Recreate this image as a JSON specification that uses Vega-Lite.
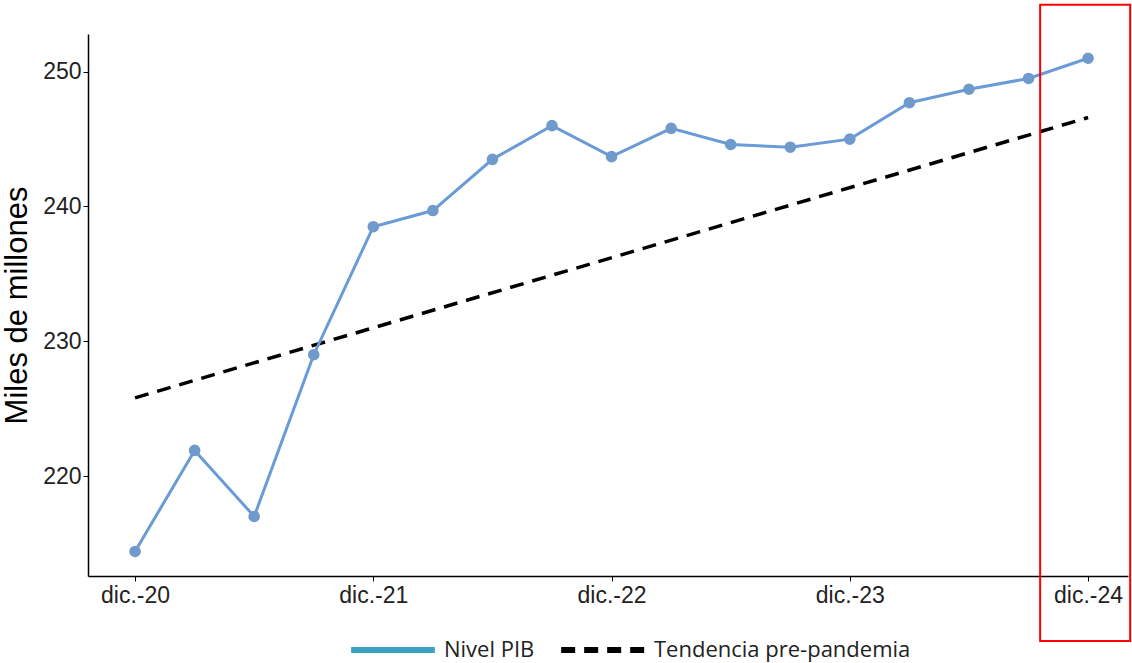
{
  "$schema": "https://vega.github.io/schema/vega-lite/v6.json",
  "autosize": {"type": "none"},
  "width": 1040,
  "height": 542,
  "padding": {"left": 88, "top": 34, "right": 4, "bottom": 87},
  "background": "white",
  "config": {
    "view": {"stroke": null},
    "font": "Liberation Sans",
    "axis": {
      "grid": false,
      "domainColor": "black",
      "domainWidth": 1.5,
      "tickColor": "black",
      "tickSize": 5,
      "labelColor": "#222222",
      "labelFont": "Liberation Sans",
      "labelFontSize": 23,
      "titleFont": "Liberation Sans",
      "titleFontWeight": "normal",
      "titleColor": "black"
    },
    "legend": {
      "labelFont": "Open Sans",
      "labelFontSize": 22,
      "labelColor": "#222222",
      "labelLimit": 500
    }
  },
  "datasets": {
    "pib": [
      {"i": 0, "periodo": "dic.-20", "valor": 214.4, "serie": "Nivel PIB"},
      {"i": 1, "periodo": "mar.-21", "valor": 221.9, "serie": "Nivel PIB"},
      {"i": 2, "periodo": "jun.-21", "valor": 217.0, "serie": "Nivel PIB"},
      {"i": 3, "periodo": "sep.-21", "valor": 229.0, "serie": "Nivel PIB"},
      {"i": 4, "periodo": "dic.-21", "valor": 238.5, "serie": "Nivel PIB"},
      {"i": 5, "periodo": "mar.-22", "valor": 239.7, "serie": "Nivel PIB"},
      {"i": 6, "periodo": "jun.-22", "valor": 243.5, "serie": "Nivel PIB"},
      {"i": 7, "periodo": "sep.-22", "valor": 246.0, "serie": "Nivel PIB"},
      {"i": 8, "periodo": "dic.-22", "valor": 243.7, "serie": "Nivel PIB"},
      {"i": 9, "periodo": "mar.-23", "valor": 245.8, "serie": "Nivel PIB"},
      {"i": 10, "periodo": "jun.-23", "valor": 244.6, "serie": "Nivel PIB"},
      {"i": 11, "periodo": "sep.-23", "valor": 244.4, "serie": "Nivel PIB"},
      {"i": 12, "periodo": "dic.-23", "valor": 245.0, "serie": "Nivel PIB"},
      {"i": 13, "periodo": "mar.-24", "valor": 247.7, "serie": "Nivel PIB"},
      {"i": 14, "periodo": "jun.-24", "valor": 248.7, "serie": "Nivel PIB"},
      {"i": 15, "periodo": "sep.-24", "valor": 249.5, "serie": "Nivel PIB"},
      {"i": 16, "periodo": "dic.-24", "valor": 251.0, "serie": "Nivel PIB"}
    ],
    "tendencia": [
      {"i": 0, "periodo": "dic.-20", "valor": 225.8, "serie": "Tendencia pre-pandemia"},
      {"i": 16, "periodo": "dic.-24", "valor": 246.6, "serie": "Tendencia pre-pandemia"}
    ],
    "recuadro": [
      {"x1": 15.195, "x2": 16.706, "y1": 207.76, "y2": 254.97}
    ]
  },
  "layer": [
    {
      "data": {"name": "tendencia"},
      "mark": {"type": "line", "strokeWidth": 3.5},
      "encoding": {
        "x": {
          "field": "i",
          "type": "quantitative",
          "scale": {"domain": [-0.79, 16.67], "nice": false, "zero": false},
          "axis": {
            "title": null,
            "values": [0, 4, 8, 12, 16],
            "labelExpr": "{'0':'dic.-20','4':'dic.-21','8':'dic.-22','12':'dic.-23','16':'dic.-24'}[datum.value]",
            "labelPadding": 3
          }
        },
        "y": {
          "field": "valor",
          "type": "quantitative",
          "scale": {"domain": [212.58, 252.8], "nice": false, "zero": false},
          "axis": {
            "title": "Miles de millones",
            "titleFontSize": 31,
            "titlePadding": 9,
            "values": [220, 230, 240, 250]
          }
        },
        "color": {
          "field": "serie",
          "type": "nominal",
          "scale": {"domain": ["Nivel PIB", "Tendencia pre-pandemia"], "range": ["#37A2C2", "black"]},
          "legend": {
            "title": null,
            "orient": "none",
            "legendX": 260,
            "legendY": 571,
            "direction": "horizontal",
            "symbolType": "stroke",
            "symbolSize": 7000,
            "symbolStrokeWidth": 6,
            "columnPadding": 14,
            "labelOffset": 6
          }
        },
        "strokeDash": {
          "field": "serie",
          "type": "nominal",
          "scale": {"domain": ["Nivel PIB", "Tendencia pre-pandemia"], "range": [[1, 0], [14, 9]]},
          "legend": null
        }
      }
    },
    {
      "data": {"name": "pib"},
      "mark": {"type": "line", "color": "#6B9BD6", "strokeWidth": 3},
      "encoding": {
        "x": {"field": "i", "type": "quantitative"},
        "y": {"field": "valor", "type": "quantitative"}
      }
    },
    {
      "data": {"name": "pib"},
      "mark": {"type": "circle", "color": "#7099CC", "opacity": 1, "size": 135},
      "encoding": {
        "x": {"field": "i", "type": "quantitative"},
        "y": {"field": "valor", "type": "quantitative"}
      }
    },
    {
      "data": {"name": "recuadro"},
      "mark": {"type": "rect", "fill": null, "fillOpacity": 0, "stroke": "#FF0000", "strokeWidth": 2},
      "encoding": {
        "x": {"field": "x1", "type": "quantitative"},
        "x2": {"field": "x2"},
        "y": {"field": "y1", "type": "quantitative"},
        "y2": {"field": "y2"}
      }
    }
  ]
}
